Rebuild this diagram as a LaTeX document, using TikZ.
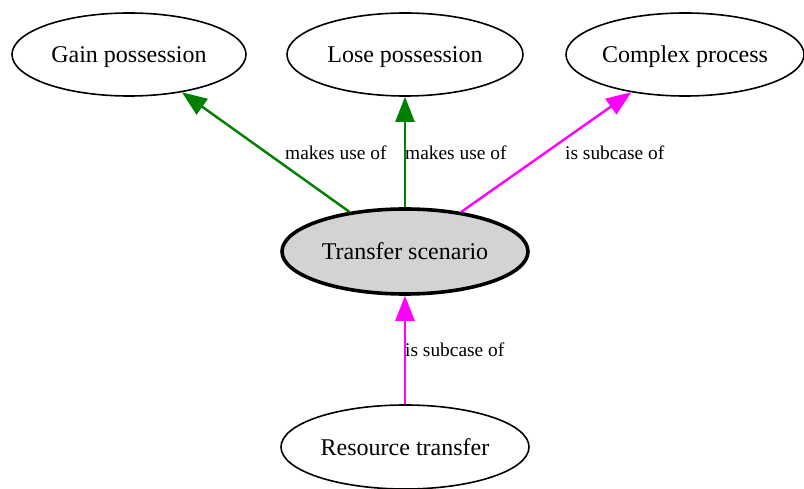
\documentclass[tikz,border=0pt]{standalone}
\usepackage{fontspec}
\setmainfont{Liberation Serif}
\usetikzlibrary{shapes.geometric,arrows.meta}
\definecolor{edgegreen}{RGB}{0,128,0}
\definecolor{edgemag}{RGB}{255,0,255}
\definecolor{nodegray}{RGB}{211,211,211}
\tikzset{
  concept/.style={ellipse, draw=black, line width=1.6pt, inner sep=0pt,
    minimum width=234pt, minimum height=83pt, font=\fontsize{24}{28}\selectfont,
    text height=16pt, text depth=0pt},
  central/.style={concept, fill=nodegray, line width=3.6pt, minimum width=246pt, minimum height=85pt},
  rel/.style={line width=2.4pt, -{Triangle[length=25pt,width=19pt]}, shorten >=0pt},
  uses/.style={rel, draw=edgegreen, fill=edgegreen},
  subcase/.style={rel, draw=edgemag, fill=edgemag},
  lbl/.style={font=\fontsize{19.4}{22}\selectfont, inner sep=0pt}
}
\begin{document}
\begin{tikzpicture}[x=1pt,y=-1pt]
\useasboundingbox (0,0) rectangle (804,489);
\node[concept] (gp) at (129,54.5) {Gain possession};
\node[concept, minimum width=236pt] (lp) at (405,54.5) {Lose possession};
\node[concept, minimum width=238pt] (cp) at (685,54.5) {Complex process};
\node[central] (ts) at (405,251.5) {Transfer scenario};
\node[concept, minimum width=248pt, minimum height=84pt] (rt) at (405,447) {Resource transfer};
\draw[uses] (ts) -- (gp);
\draw[uses] (ts) -- (lp);
\draw[subcase] (ts) -- (cp);
\draw[subcase] (rt) -- (ts);
\node[lbl, anchor=west] (l1) at (285,153) {makes use of};
\node[lbl, anchor=west] (l2) at (405,153) {makes use of};
\node[lbl, anchor=west] (l3) at (565,153) {is subcase of};
\node[lbl, anchor=west] (l4) at (405,350) {is subcase of};
\end{tikzpicture}
\end{document}
